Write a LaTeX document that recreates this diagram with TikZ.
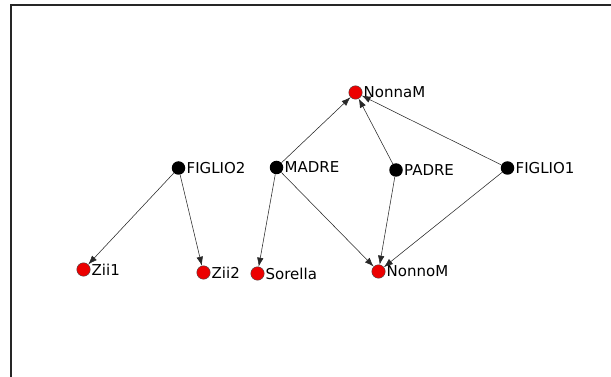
\documentclass[tikz,border=0pt]{standalone}
\usepackage{amsmath}
\usepackage{xcolor}
\usepackage{fontspec}
\setmainfont{DejaVu Sans}
\usepackage{tikz}
\usetikzlibrary{arrows.meta}

\definecolor{nodered}{RGB}{236,0,0}
\definecolor{edgegray}{RGB}{40,40,40}

\begin{document}
\begin{tikzpicture}[x=1pt,y=-1pt,
    every label/.style={font=\fontsize{15}{17}\selectfont, inner sep=1pt, label distance=0pt},
    parent/.style={circle, fill=black, inner sep=0pt, minimum size=13.5pt},
    relative/.style={circle, fill=nodered, draw=black!70, line width=0.4pt, inner sep=0pt, minimum size=13.5pt},
    link/.style={draw=edgegray, line width=0.55pt, -{Latex[length=9pt,width=6.5pt]}}]
                \useasboundingbox (0,0) rectangle (611,377);
                \draw [line width=2pt, black!85] (11,377) -- (11,5) -- (611,5);
                \node [relative, label=right:NonnaM] (nonnam) at (355.5,92.5) {};
                \node [parent, label=right:FIGLIO2] (figlio2) at (178.5,168) {};
                \node [parent, label=right:MADRE] (madre) at (276.5,167.5) {};
                \node [parent, label=right:PADRE] (padre) at (396,170) {};
                \node [parent, label=right:FIGLIO1] (figlio1) at (507.5,168) {};
                \node [relative, label=right:Zii1] (zii1) at (83.5,269.5) {};
                \node [relative, label=right:Zii2] (zii2) at (203.5,272.5) {};
                \node [relative, label=right:Sorella] (sorella) at (257.5,273.5) {};
                \node [relative, label=right:NonnoM] (nonnom) at (378.5,271.5) {};
                \draw [link] (madre) -- (nonnam);
                \draw [link] (padre) -- (nonnam);
                \draw [link] (figlio1) -- (nonnam);
                \draw [link] (madre) -- (sorella);
                \draw [link] (madre) -- (nonnom);
                \draw [link] (padre) -- (nonnom);
                \draw [link] (figlio1) -- (nonnom);
                \draw [link] (figlio2) -- (zii1);
                \draw [link] (figlio2) -- (zii2);
            \end{tikzpicture}
\end{document}
